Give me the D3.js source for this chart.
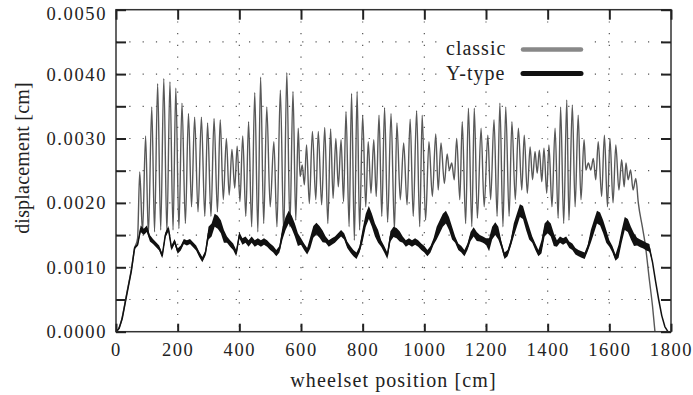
<!DOCTYPE html>
<html>
<head>
<meta charset="utf-8">
<script src="https://cdn.jsdelivr.net/npm/d3@7"></script>
<style>
body { margin: 0; background: #fff; }
svg text { font-family: "Liberation Serif", "DejaVu Serif", serif; fill: #222; }
</style>
</head>
<body>
<svg id="chart" width="693" height="395"></svg>
<script>
const SVG_WIDTH = 693;
const SVG_HEIGHT = 395;
const MARGIN = {top: 9.7, right: 22, bottom: 63.3, left: 116};
const SERIF = "'Liberation Serif', 'DejaVu Serif', serif";

const X_TICKS = [0, 200, 400, 600, 800, 1000, 1200, 1400, 1600, 1800];
const Y_TICKS = [0, 0.0005, 0.001, 0.0015, 0.002, 0.0025, 0.003, 0.0035, 0.004, 0.0045, 0.005];
const Y_LABELLED = [0, 0.001, 0.002, 0.003, 0.004, 0.005];
const X_AXIS_LABEL = "wheelset position [cm]";
const Y_AXIS_LABEL = "displacement [cm]";
const SERIES_NAMES = ["classic", "Y-type"];

// classic: [position cm, displacement cm], peaks and troughs
const classicPoints = [
    [0, 0], [5, 0.00002], [18, 0.00018], [35, 0.0006], [51, 0.001], [61, 0.0013], [70, 0.00145],
    [77, 0.00248], [86, 0.00153], [96, 0.00304], [105, 0.0015], [116, 0.00349], [125, 0.00155],
    [135, 0.00385], [145, 0.00158], [155, 0.00393], [165, 0.00155], [175, 0.00388], [185, 0.00158],
    [194, 0.00378], [204, 0.0016], [214, 0.00355], [225, 0.00168], [235, 0.00339], [245, 0.00194],
    [255, 0.00333], [266, 0.00186], [277, 0.00333], [288, 0.00179], [297, 0.00324], [308, 0.00179],
    [318, 0.00331], [329, 0.00186], [338, 0.00329], [348, 0.00205], [358, 0.003], [367, 0.00212],
    [376, 0.00283], [385, 0.00223], [393, 0.00288], [402, 0.00202], [411, 0.00304], [421, 0.00179],
    [430, 0.00326], [440, 0.00163], [450, 0.00371], [460, 0.00155], [469, 0.00395], [479, 0.00168],
    [489, 0.00349], [500, 0.00194], [512, 0.00295], [522, 0.00163], [533, 0.00375], [544, 0.00153],
    [554, 0.00402], [564, 0.00163], [574, 0.00373], [583, 0.00173], [591, 0.00316], [597, 0.00241],
    [604, 0.00259], [611, 0.00228], [618, 0.0029], [627, 0.00199], [637, 0.00311], [648, 0.00205],
    [656, 0.00311], [667, 0.00197], [677, 0.00317], [687, 0.00168], [696, 0.00315], [704, 0.00207],
    [713, 0.003], [721, 0.00225], [730, 0.00298], [738, 0.00202], [746, 0.00342], [756, 0.00163],
    [764, 0.0037], [773, 0.00142], [782, 0.00373], [790, 0.00158], [800, 0.00336], [810, 0.00194],
    [818, 0.00295], [827, 0.00215], [836, 0.00298], [844, 0.0021], [853, 0.00336], [862, 0.00179],
    [871, 0.00348], [881, 0.0017], [892, 0.00339], [903, 0.00158], [911, 0.00324], [922, 0.00205],
    [933, 0.00293], [944, 0.00197], [954, 0.0033], [964, 0.00179], [975, 0.00343], [985, 0.00163],
    [993, 0.00336], [1004, 0.00173], [1015, 0.00295], [1026, 0.0021], [1037, 0.00307], [1045, 0.0022],
    [1054, 0.00293], [1065, 0.0023], [1074, 0.00276], [1081, 0.00251], [1089, 0.00262], [1097, 0.00236],
    [1105, 0.003], [1115, 0.00205], [1123, 0.00326], [1134, 0.00168], [1143, 0.00347], [1154, 0.00163],
    [1162, 0.00347], [1172, 0.00176], [1184, 0.00316], [1194, 0.00194], [1206, 0.00305], [1215, 0.00205],
    [1226, 0.00329], [1236, 0.00179], [1245, 0.00355], [1255, 0.00163], [1264, 0.00349], [1275, 0.00179],
    [1284, 0.00326], [1295, 0.00205], [1305, 0.00316], [1316, 0.0022], [1324, 0.00305], [1334, 0.00215],
    [1343, 0.00287], [1351, 0.00236], [1359, 0.0028], [1366, 0.00246], [1373, 0.00282], [1381, 0.00233],
    [1388, 0.00285], [1397, 0.00215], [1404, 0.0029], [1414, 0.00194], [1424, 0.00316], [1434, 0.00176],
    [1442, 0.00349], [1452, 0.00168], [1462, 0.0036], [1469, 0.00173], [1480, 0.00352], [1489, 0.00194],
    [1499, 0.00336], [1508, 0.00205], [1518, 0.00298], [1524, 0.00251], [1532, 0.00262], [1540, 0.00251],
    [1548, 0.00269], [1556, 0.00236], [1564, 0.00295], [1575, 0.0021], [1584, 0.00305], [1594, 0.00194],
    [1602, 0.003], [1612, 0.002], [1621, 0.0029], [1631, 0.0022], [1640, 0.00267], [1648, 0.00225],
    [1654, 0.00262], [1661, 0.00236], [1669, 0.00251], [1677, 0.0022], [1686, 0.00238], [1694, 0.002],
    [1707, 0.00163], [1716, 0.00137], [1730, 0.0008], [1740, 0.0004], [1748, 0]
];

// Y-type: one reading every 10 cm from 0 to 1790
const yTypeStep = 10;
const yTypeValues = [
    0, 0.00005, 0.0002, 0.00045, 0.0007, 0.00095, 0.0013, 0.00135, 0.0016, 0.00155,
    0.0016, 0.00145, 0.0014, 0.00135, 0.0013, 0.00118, 0.0015, 0.0016, 0.0013, 0.0014,
    0.00125, 0.0013, 0.0014, 0.00138, 0.0014, 0.00135, 0.0013, 0.0012, 0.00112, 0.00122,
    0.00153, 0.00158, 0.00173, 0.0017, 0.00163, 0.00148, 0.00143, 0.00137, 0.00132, 0.00122,
    0.0015, 0.0014, 0.00143, 0.00137, 0.00143, 0.00137, 0.0014, 0.00137, 0.0014, 0.00137,
    0.00132, 0.00128, 0.00122, 0.00128, 0.00153, 0.00168, 0.00178, 0.0017, 0.00158, 0.00143,
    0.0014, 0.00132, 0.00125, 0.00138, 0.00155, 0.0016, 0.00155, 0.00148, 0.00143, 0.00137,
    0.0014, 0.00143, 0.00148, 0.00153, 0.00148, 0.00135, 0.00128, 0.00122, 0.00118, 0.00128,
    0.0015, 0.00173, 0.00185, 0.00173, 0.00158, 0.00148, 0.00137, 0.00128, 0.00118, 0.00148,
    0.00155, 0.00153, 0.00148, 0.00143, 0.00137, 0.0014, 0.00137, 0.0014, 0.00137, 0.00132,
    0.00128, 0.00122, 0.00128, 0.0014, 0.00153, 0.00163, 0.00173, 0.00178, 0.00168, 0.00153,
    0.00143, 0.00132, 0.00128, 0.00122, 0.00132, 0.00148, 0.00155, 0.00148, 0.00145, 0.00143,
    0.0014, 0.00135, 0.00153, 0.0016, 0.00153, 0.00135, 0.00118, 0.00122, 0.00137, 0.00158,
    0.00173, 0.00188, 0.00185, 0.00168, 0.00153, 0.00143, 0.00132, 0.00122, 0.00132, 0.00158,
    0.00163, 0.00158, 0.00143, 0.00137, 0.00143, 0.0014, 0.00143, 0.00135, 0.00132, 0.00125,
    0.00122, 0.0012, 0.00118, 0.0013, 0.00148, 0.00163, 0.00178, 0.00175, 0.00163, 0.00148,
    0.00137, 0.00128, 0.00115, 0.00125, 0.00148, 0.00168, 0.00165, 0.00153, 0.00143, 0.0014,
    0.00137, 0.00135, 0.00132, 0.0013, 0.00108, 0.00078, 0.0005, 0.00025, 0.00008, 0
];
// Y-type noise band half width: [from cm, to cm, half width]
const yTypeNoise = [
    [60, 70, 0.00002], [80, 110, 0.00005], [120, 290, 0.00004], [300, 350, 0.0001],
    [360, 530, 0.00005], [540, 590, 0.0001], [600, 620, 0.00005], [630, 670, 0.00009],
    [680, 790, 0.00005], [800, 850, 0.0001], [860, 880, 0.00005], [890, 920, 0.00008],
    [930, 1030, 0.00005], [1040, 1090, 0.0001], [1100, 1140, 0.00005], [1150, 1170, 0.00007],
    [1180, 1200, 0.00005], [1210, 1240, 0.0001], [1250, 1280, 0.00005], [1290, 1340, 0.0001],
    [1350, 1370, 0.00005], [1380, 1420, 0.0001], [1430, 1530, 0.00005], [1540, 1590, 0.0001],
    [1600, 1620, 0.00005], [1630, 1680, 0.0001], [1690, 1730, 0.00006]
];

var yTypePoints = yTypeValues.map(function(v, i) {
    var pos = i * yTypeStep;
    var half = 0;
    yTypeNoise.forEach(function(b) {
        if (pos >= b[0] && pos <= b[1]) half = b[2];
    });
    return {pos: pos, value: v, half: half};
});

var svg = d3.select("#chart");
svg.append("rect")
    .attr("width", SVG_WIDTH)
    .attr("height", SVG_HEIGHT)
    .attr("fill", "#fff");

var xScale = d3.scaleLinear()
    .domain([0, 1800])
    .range([MARGIN.left, SVG_WIDTH - MARGIN.right]);
var yScale = d3.scaleLinear()
    .domain([0, 0.005])
    .range([SVG_HEIGHT - MARGIN.bottom, MARGIN.top]);
var x0 = xScale.range()[0], x1 = xScale.range()[1];
var y0 = yScale.range()[0], y1 = yScale.range()[1];

// dotted grid
var grid = svg.append("g");
grid.selectAll(".vgrid")
    .data(X_TICKS.slice(1, -1))
    .enter()
    .append("line")
    .attr("x1", function(d) { return xScale(d); })
    .attr("x2", function(d) { return xScale(d); })
    .attr("y1", y1)
    .attr("y2", y0)
    .attr("stroke", "#555")
    .attr("stroke-width", 1.2)
    .attr("stroke-dasharray", "1.2,10.5");
grid.selectAll(".hgrid")
    .data(Y_TICKS.slice(1, -1))
    .enter()
    .append("line")
    .attr("x1", x0)
    .attr("x2", x1)
    .attr("y1", function(d) { return yScale(d); })
    .attr("y2", function(d) { return yScale(d); })
    .attr("stroke", "#555")
    .attr("stroke-width", 1.2)
    .attr("stroke-dasharray", "1.2,12.1");

// classic
var classicLine = d3.line()
    .x(function(d) { return xScale(d[0]); })
    .y(function(d) { return yScale(d[1]); })
    .curve(d3.curveMonotoneX);
svg.append("path")
    .datum(classicPoints)
    .attr("d", classicLine)
    .attr("fill", "none")
    .attr("stroke", "#585858")
    .attr("stroke-width", 1.4);

// Y-type with its noise band
var yTypeArea = d3.area()
    .x(function(d) { return xScale(d.pos); })
    .y0(function(d) { return yScale(d.value - d.half); })
    .y1(function(d) { return yScale(d.value + d.half); });
svg.append("path")
    .datum(yTypePoints)
    .attr("d", yTypeArea)
    .attr("fill", "#111");
var yTypeLine = d3.line()
    .x(function(d) { return xScale(d.pos); })
    .y(function(d) { return yScale(d.value); });
svg.append("path")
    .datum(yTypePoints)
    .attr("d", yTypeLine)
    .attr("fill", "none")
    .attr("stroke", "#111")
    .attr("stroke-width", 1.5)
    .attr("stroke-linejoin", "round");

// frame
svg.append("rect")
    .attr("x", x0)
    .attr("y", y1)
    .attr("width", x1 - x0)
    .attr("height", y0 - y1)
    .attr("fill", "none")
    .attr("stroke", "#333")
    .attr("stroke-width", 1.5);

// axes, ticks pointing inward
var labelFormat = d3.format(".4f");
var yAxisLeft = d3.axisLeft(yScale)
    .tickValues(Y_TICKS)
    .tickSize(-10)
    .tickPadding(9)
    .tickFormat(function(d) {
        return Y_LABELLED.some(function(v) { return Math.abs(v - d) < 1e-9; }) ? labelFormat(d) : "";
    });
var yAxisRight = d3.axisRight(yScale).tickValues(Y_TICKS).tickSize(-10).tickFormat("");
var xAxisBottom = d3.axisBottom(xScale).tickValues(X_TICKS).tickSize(-8).tickPadding(11)
    .tickFormat(d3.format("d"));
var xAxisTop = d3.axisTop(xScale).tickValues(X_TICKS).tickSize(-10).tickFormat("");

function styleAxis(g) {
    g.attr("font-family", SERIF).attr("font-size", 18.5);
    g.select(".domain").remove();
    g.selectAll(".tick line").attr("stroke", "#222").attr("stroke-width", 2);
    g.selectAll(".tick text")
        .attr("fill", "#222")
        .style("font-family", SERIF)
        .style("font-size", "18.5px")
        .style("letter-spacing", "1.6px");
}

var leftG = svg.append("g").attr("transform", "translate(" + x0 + ",0)").call(yAxisLeft).call(styleAxis);
svg.append("g").attr("transform", "translate(" + x1 + ",0)").call(yAxisRight).call(styleAxis);
svg.append("g").attr("transform", "translate(0," + y0 + ")").call(xAxisBottom).call(styleAxis);
svg.append("g").attr("transform", "translate(0," + y1 + ")").call(xAxisTop).call(styleAxis);

// top label sits a little lower than its tick
leftG.selectAll(".tick text")
    .filter(function(d) { return Math.abs(d - 0.005) < 1e-9; })
    .attr("y", 4);

// axis titles
svg.append("text")
    .attr("transform", "rotate(-90)")
    .attr("x", -158)
    .attr("y", 29)
    .attr("text-anchor", "middle")
    .style("font-family", SERIF)
    .style("font-size", "20px")
    .style("letter-spacing", "0.2px")
    .text(Y_AXIS_LABEL);
svg.append("text")
    .attr("x", (x0 + x1) / 2)
    .attr("y", 387)
    .attr("text-anchor", "middle")
    .style("font-family", SERIF)
    .style("font-size", "20px")
    .style("letter-spacing", "1.1px")
    .text(X_AXIS_LABEL);

// legend
var legend = svg.append("g");
legend.append("rect")
    .attr("x", 440)
    .attr("y", 33)
    .attr("width", 150)
    .attr("height", 54)
    .attr("fill", "#fff");
var legendColors = ["#888", "#111"];
var legendWidths = [4.5, 5];
var legendRows = legend.selectAll(".legend-row")
    .data(SERIES_NAMES)
    .enter()
    .append("g")
    .attr("transform", function(d, i) { return "translate(0," + (i * 25) + ")"; });
legendRows.append("text")
    .attr("x", 446)
    .attr("y", 54.5)
    .style("font-family", SERIF)
    .style("font-size", "20px")
    .style("letter-spacing", "1px")
    .text(function(d) { return d; });
legendRows.append("line")
    .attr("x1", 523)
    .attr("x2", 581)
    .attr("y1", function(d, i) { return 49.5 - i * 1; })
    .attr("y2", function(d, i) { return 49.5 - i * 1; })
    .attr("stroke", function(d, i) { return legendColors[i]; })
    .attr("stroke-width", function(d, i) { return legendWidths[i]; })
    .attr("stroke-linecap", "round");
</script>
</body>
</html>
